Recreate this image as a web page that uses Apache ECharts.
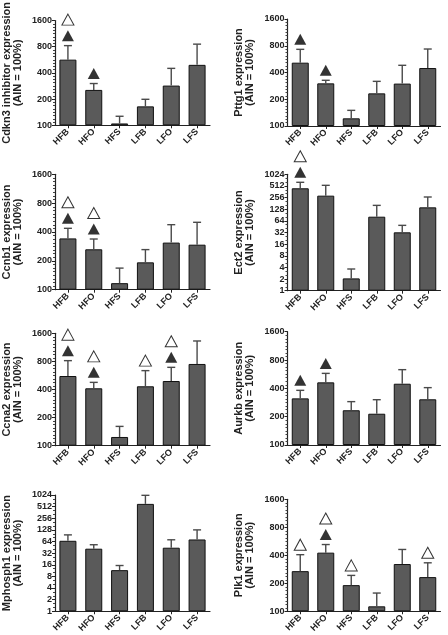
<!DOCTYPE html>
<html><head><meta charset="utf-8">
<script src="https://cdn.jsdelivr.net/npm/echarts@6/dist/echarts.min.js"></script>
<style>html,body{margin:0;padding:0;background:#fff}#c{width:448px;height:635px}</style>
</head><body><div id="c"></div>
<script>
const categories = ['HFB','HFO','HFS','LFB','LFO','LFS'];

// Mean values and upper error-bar ends (% of AIN)
const cdkn3Mean = [568, 255, 105, 165, 286, 495];
const cdkn3Upper = [823, 302, 127, 199, 451, 856];
const cdkn3Filled = [1, 1, 0, 0, 0, 0];
const cdkn3Open = [1, 0, 0, 0, 0, 0];

const pttg1Mean = [516, 302, 122, 233, 300, 449];
const pttg1Upper = [729, 327, 150, 318, 482, 735];
const pttg1Filled = [1, 1, 0, 0, 0, 0];
const pttg1Open = [0, 0, 0, 0, 0, 0];

const ccnb1Mean = [343, 264, 117, 193, 310, 295];
const ccnb1Upper = [437, 338, 168, 262, 477, 505];
const ccnb1Filled = [1, 1, 0, 0, 0, 0];
const ccnb1Open = [1, 1, 0, 0, 0, 0];

const ect2Mean = [445, 287, 2.08, 82, 32.3, 143];
const ect2Upper = [636, 531, 3.64, 161, 49, 265];
const ect2Filled = [1, 0, 0, 0, 0, 0];
const ect2Open = [1, 0, 0, 0, 0, 0];

const ccna2Mean = [558, 412, 124, 433, 493, 751];
const ccna2Upper = [815, 477, 161, 637, 691, 1324];
const ccna2Filled = [1, 1, 0, 0, 1, 0];
const ccna2Open = [1, 1, 0, 1, 1, 0];

const aurkbMean = [313, 463, 234, 215, 448, 306];
const aurkbUpper = [381, 577, 289, 303, 632, 407];
const aurkbFilled = [1, 1, 0, 0, 0, 0];
const aurkbOpen = [0, 0, 0, 0, 0, 0];

const mphosph1Mean = [66.8, 41.7, 11.6, 603, 44.2, 72.3];
const mphosph1Upper = [95, 52.8, 15.3, 1004, 70.9, 128];
const mphosph1Filled = [0, 0, 0, 0, 0, 0];
const mphosph1Open = [0, 0, 0, 0, 0, 0];

const plk1Mean = [270, 427, 191, 113, 322, 233];
const plk1Upper = [406, 522, 243, 157, 462, 332];
const plk1Filled = [0, 1, 0, 0, 0, 0];
const plk1Open = [1, 1, 1, 0, 0, 1];

const tickLow = [100, 200, 400, 800, 1600];
const tickWide = [1, 2, 4, 8, 16, 32, 64, 128, 256, 512, 1024];

const panels = [
  {name: 'Cdkn3 inhibitor expression\n(AIN = 100%)', mean: cdkn3Mean, up: cdkn3Upper, f: cdkn3Filled, o: cdkn3Open, ticks: tickLow, box: [52, 5.7, 158, 119.6]},
  {name: 'Pttg1 expression\n(AIN = 100%)', mean: pttg1Mean, up: pttg1Upper, f: pttg1Filled, o: pttg1Open, ticks: tickLow, box: [287.5, 19, 153, 107]},
  {name: 'Ccnb1 expression\n(AIN = 100%)', mean: ccnb1Mean, up: ccnb1Upper, f: ccnb1Filled, o: ccnb1Open, ticks: tickLow, box: [52, 174.3, 158, 115.4]},
  {name: 'Ect2 expression\n(AIN = 100%)', mean: ect2Mean, up: ect2Upper, f: ect2Filled, o: ect2Open, ticks: tickWide, box: [287.5, 174.3, 153, 116.4]},
  {name: 'Ccna2 expression\n(AIN = 100%)', mean: ccna2Mean, up: ccna2Upper, f: ccna2Filled, o: ccna2Open, ticks: tickLow, box: [52, 333.3, 158, 112.4]},
  {name: 'Aurkb expression\n(AIN = 100%)', mean: aurkbMean, up: aurkbUpper, f: aurkbFilled, o: aurkbOpen, ticks: tickLow, box: [287.5, 331.7, 153, 113.3]},
  {name: 'Mphosph1 expression\n(AIN = 100%)', mean: mphosph1Mean, up: mphosph1Upper, f: mphosph1Filled, o: mphosph1Open, ticks: tickWide, box: [52, 495, 158, 117.7]},
  {name: 'Plk1 expression\n(AIN = 100%)', mean: plk1Mean, up: plk1Upper, f: plk1Filled, o: plk1Open, ticks: tickLow, box: [287.5, 499.3, 153, 114.7]}
];

const FONT = '"Liberation Sans", Arial, sans-serif';
const grids = [], xAxes = [], yAxes = [], series = [];

panels.forEach((p, i) => {
  const base = p.ticks[0];
  const nSteps = p.ticks.length - 1;
  const tr = v => Math.log2(v / base);
  const [l, t, w, h] = p.box;
  grids.push({left: l, top: t, width: w, height: h, containLabel: false});
  xAxes.push({
    type: 'category', gridIndex: i, data: categories,
    axisLine: {lineStyle: {color: '#222', width: 1.2}},
    axisTick: {show: true, alignWithLabel: true, length: 3, lineStyle: {color: '#222'}},
    axisLabel: {rotate: 45, fontFamily: FONT, fontWeight: 'bold', fontSize: 9, color: '#222', margin: 5, interval: 0}
  });
  yAxes.push({
    type: 'value', gridIndex: i, min: 0, max: nSteps, interval: 1,
    name: p.name, nameLocation: 'middle', nameGap: nSteps > 4 ? 32 : 32, nameRotate: 90,
    nameTextStyle: {fontFamily: FONT, fontWeight: 'bold', fontSize: 11, color: '#222', lineHeight: 11},
    axisLine: {show: true, lineStyle: {color: '#222', width: 1.2}},
    axisTick: {show: true, length: 3, lineStyle: {color: '#222'}},
    minorTick: {show: true, splitNumber: nSteps > 4 ? 3 : 8, length: 2, lineStyle: {color: '#444'}},
    splitLine: {show: false},
    axisLabel: {fontFamily: FONT, fontWeight: 'bold', fontSize: 9, color: '#222', margin: 3,
      formatter: v => String(Math.round(base * Math.pow(2, v)))}
  });
  series.push({
    type: 'bar', xAxisIndex: i, yAxisIndex: i, barWidth: 17,
    data: p.mean.map(v => tr(v)),
    itemStyle: {color: '#5a5a5a', borderColor: '#111', borderWidth: 1},
    silent: true, animation: false, z: 2
  });
  series.push({
    type: 'custom', xAxisIndex: i, yAxisIndex: i, animation: false, silent: true, z: 3,
    data: p.mean.map((v, k) => [k, tr(v), tr(p.up[k])]),
    renderItem: (params, api) => {
      const lo = api.coord([api.value(0), api.value(1)]);
      const hi = api.coord([api.value(0), api.value(2)]);
      const st = {stroke: '#4a4a4a', lineWidth: 1.4};
      return {type: 'group', children: [
        {type: 'line', shape: {x1: lo[0], y1: lo[1], x2: hi[0], y2: hi[1]}, style: st},
        {type: 'line', shape: {x1: hi[0] - 4, y1: hi[1], x2: hi[0] + 4, y2: hi[1]}, style: st}
      ]};
    }
  });
  const filled = [], open = [], openHigh = [];
  p.up.forEach((u, k) => {
    if (p.f[k]) filled.push([k, tr(u)]);
    if (p.o[k]) { if (p.f[k]) openHigh.push([k, tr(u)]); else open.push([k, tr(u)]); }
  });
  const mk = (data, off, fill) => ({
    type: 'scatter', xAxisIndex: i, yAxisIndex: i, data: data, symbol: 'triangle',
    symbolSize: [12, 11], symbolOffset: [0, off], clip: false, silent: true, animation: false, z: 5,
    itemStyle: fill ? {color: '#000'} : {color: '#fff', borderColor: '#000', borderWidth: 1}
  });
  if (filled.length) series.push(mk(filled, -10, true));
  if (open.length) series.push(mk(open, -10, false));
  if (openHigh.length) series.push(mk(openHigh, -26, false));
});

const chart = echarts.init(document.getElementById('c'), null, {renderer: 'canvas'});
chart.setOption({animation: false, grid: grids, xAxis: xAxes, yAxis: yAxes, series: series});
</script></body></html>
